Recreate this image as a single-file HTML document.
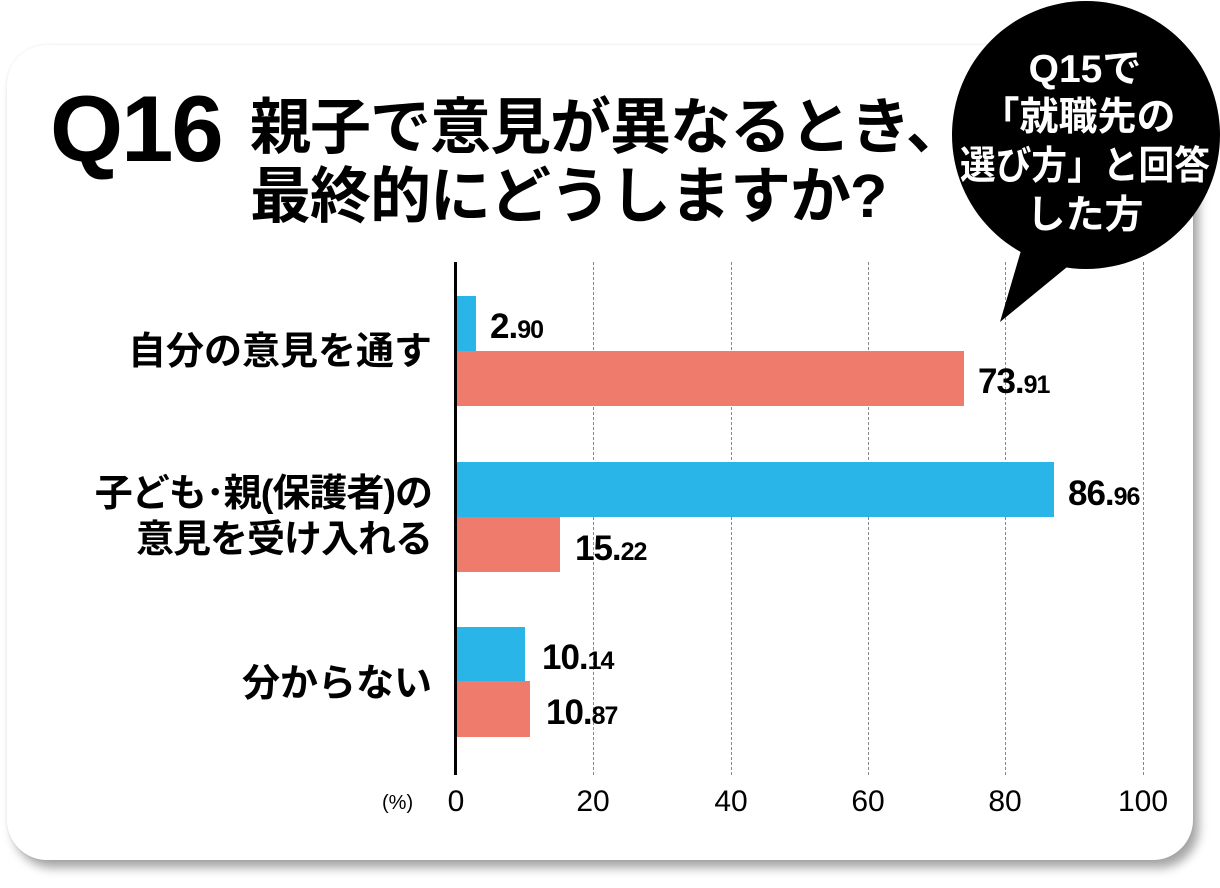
<!DOCTYPE html>
<html><head><meta charset="utf-8"><style>
body{margin:0;width:1220px;height:888px;background:#fff;position:relative;overflow:hidden;font-family:"Liberation Sans","Noto Sans CJK JP",sans-serif}
.card{position:absolute;left:7px;top:45px;width:1186px;height:815px;background:#fff;border-radius:40px;box-shadow:6px 8px 10px rgba(0,0,0,0.35),0 0 3px rgba(0,0,0,0.08)}
.abs{position:absolute;white-space:nowrap}
.q{left:50px;top:82px;font-size:94px;font-weight:bold;letter-spacing:-2px;line-height:1}
.t{left:250px;font-size:61px;font-weight:bold;line-height:1;letter-spacing:-1px}
.cat{font-size:38px;font-weight:bold;text-align:right;right:788px;line-height:1.2}
.val{font-size:35px;font-weight:900;line-height:1;letter-spacing:-1px}
.val small{font-size:25px}
.tick{font-size:30px;top:785px;width:80px;text-align:center}
.bar{position:absolute;left:456px}
.b{background:#29b5e8}.r{background:#ee7b6b}
.grid{position:absolute;top:262px;height:513px;border-left:1.5px dashed #888}
</style></head><body>
<div class="card"></div>
<div class="abs q">Q16</div>
<div class="abs t" style="top:97px">親子で意見が異なるとき、</div>
<div class="abs t" style="top:166px">最終的にどうしますか?</div>

<div class="grid" style="left:593px"></div>
<div class="grid" style="left:731px"></div>
<div class="grid" style="left:868px"></div>
<div class="grid" style="left:1005px"></div>
<div class="grid" style="left:1143px"></div>

<div class="bar b" style="top:296px;height:55px;width:20px"></div>
<div class="bar r" style="top:351px;height:55px;width:508px"></div>
<div class="bar b" style="top:462px;height:55px;width:598px"></div>
<div class="bar r" style="top:517px;height:55px;width:104px"></div>
<div class="bar b" style="top:627px;height:54px;width:69px"></div>
<div class="bar r" style="top:681px;height:56px;width:74px"></div>
<div style="position:absolute;left:454px;top:262px;width:3px;height:513px;background:#000"></div>

<div class="abs val" style="left:490px;top:309px">2.<small>90</small></div>
<div class="abs val" style="left:978px;top:364px">73.<small>91</small></div>
<div class="abs val" style="left:1068px;top:476px">86.<small>96</small></div>
<div class="abs val" style="left:575px;top:531px">15.<small>22</small></div>
<div class="abs val" style="left:542px;top:640px">10.<small>14</small></div>
<div class="abs val" style="left:546px;top:695px">10.<small>87</small></div>

<div class="abs cat" style="top:330px">自分の意見を通す</div>
<div class="abs cat" style="top:472px;letter-spacing:-1px">子ども･親(保護者)の<br>意見を受け入れる</div>
<div class="abs cat" style="top:662px">分からない</div>

<div class="abs" style="left:382px;top:792px;font-size:20px">(%)</div>
<div class="abs tick" style="left:416px">0</div>
<div class="abs tick" style="left:553px">20</div>
<div class="abs tick" style="left:691px">40</div>
<div class="abs tick" style="left:828px">60</div>
<div class="abs tick" style="left:965px">80</div>
<div class="abs tick" style="left:1103px">100</div>

<svg class="abs" style="left:0;top:0" width="1220" height="888">
<circle cx="1086" cy="135" r="134" fill="#000"/>
<polygon points="1000,322 1030,220 1100,240" fill="#000"/>
<g fill="#fff" font-family="Liberation Sans,Noto Sans CJK JP,sans-serif" font-size="39" text-anchor="middle" font-weight="bold">
<text x="1085" y="82">Q15で</text>
<text x="1078" y="130">「就職先の</text>
<text x="1085" y="179" textLength="250" lengthAdjust="spacingAndGlyphs">選び方」と回答</text>
<text x="1085" y="228">した方</text>
</g>
</svg>
</body></html>
